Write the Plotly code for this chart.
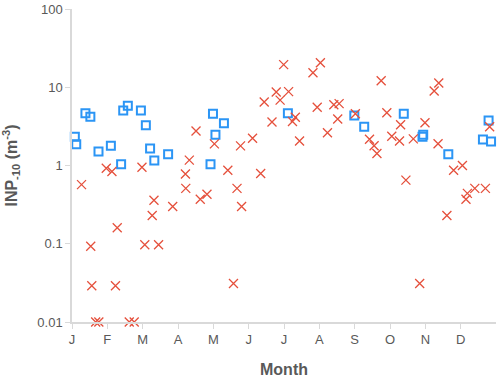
import plotly.graph_objects as go

# x = fractional month (0 = start of Jan), y = INP-10 concentration (m^-3)
month_ticks = [0, 1, 2, 3, 4, 5, 6, 7, 8, 9, 10, 11]
month_labels = ["J", "F", "M", "A", "M", "J", "J", "A", "S", "O", "N", "D"]

blue_x = [0.08, 0.12, 0.38, 0.52, 0.75, 1.10, 1.39, 1.45, 1.58, 1.95, 2.09, 2.21,
          2.33, 2.72, 3.92, 3.99, 4.06, 4.30, 6.11, 7.99, 8.27, 9.39, 9.92, 9.94,
          10.65, 11.63, 11.79, 11.86]
blue_y = [2.33, 1.87, 4.67, 4.20, 1.51, 1.79, 1.04, 5.05, 5.80, 5.05, 3.28, 1.65,
          1.16, 1.39, 1.04, 4.58, 2.47, 3.47, 4.67, 4.36, 3.13, 4.58, 2.33, 2.47,
          1.39, 2.15, 3.76, 2.03]

red_x = [0.27, 0.53, 0.56, 0.67, 0.76, 0.97, 1.13, 1.23, 1.28, 1.62, 1.76, 1.98,
         2.06, 2.27, 2.32, 2.45, 2.85, 3.21, 3.22, 3.32, 3.51, 3.63, 3.82, 4.03,
         4.41, 4.57, 4.67, 4.77, 4.80, 5.11, 5.34, 5.44, 5.66, 5.78, 5.89, 5.99,
         6.13, 6.24, 6.32, 6.44, 6.82, 6.94, 7.03, 7.23, 7.41, 7.56, 7.52, 8.02,
         8.42, 8.55, 8.63, 8.75, 8.91, 9.05, 9.27, 9.30, 9.45, 9.66, 9.84, 9.99,
         10.25, 10.36, 10.38, 10.61, 10.80, 11.05, 11.15, 11.19, 11.40, 11.70, 11.82]
red_y = [0.57, 0.093, 0.029, 0.01, 0.01, 0.92, 0.84, 0.029, 0.16, 0.01, 0.01, 0.95,
         0.097, 0.23, 0.36, 0.097, 0.30, 0.78, 0.51, 1.17, 2.76, 0.37, 0.43, 1.89,
         0.87, 0.031, 0.51, 1.78, 0.30, 2.23, 0.79, 6.49, 3.60, 8.71, 6.84, 19.45,
         8.79, 3.65, 4.13, 2.06, 15.3, 5.55, 20.6, 2.62, 5.99, 6.17, 3.93, 4.58,
         2.16, 1.79, 1.42, 12.1, 4.72, 2.36, 2.06, 3.32, 0.65, 2.19, 0.031, 3.52,
         8.97, 1.90, 11.35, 0.23, 0.87, 1.00, 0.37, 0.44, 0.51, 0.51, 3.13]

axis_grey = "#d9d9d9"
text_grey = "#595959"

fig = go.Figure()

fig.add_trace(
    go.Scatter(
        x=blue_x,
        y=blue_y,
        mode="markers",
        name="squares",
        cliponaxis=False,
        marker=dict(symbol="square-open", size=8, color="#2b95f5", line=dict(width=2)),
    )
)

fig.add_trace(
    go.Scatter(
        x=red_x,
        y=red_y,
        mode="markers",
        name="crosses",
        cliponaxis=False,
        marker=dict(symbol="x-thin-open", size=9, color="#e5503c", line=dict(width=1.3, color="#e5503c")),
    )
)

fig.update_layout(
    width=500,
    height=380,
    showlegend=False,
    plot_bgcolor="white",
    paper_bgcolor="white",
    margin=dict(l=72, r=4, t=9, b=58, autoexpand=False),
    font=dict(family="Liberation Sans, Arial, sans-serif", size=13, color=text_grey),
)

fig.update_xaxes(
    range=[0, 12],
    automargin=False,
    tickmode="array",
    tickvals=month_ticks,
    ticktext=month_labels,
    showgrid=False,
    zeroline=False,
    showline=True,
    linecolor=axis_grey,
    linewidth=1.5,
    ticks="outside",
    ticklen=5,
    tickcolor=axis_grey,
    tickfont=dict(size=13, color=text_grey),
    title=dict(text="<b>Month</b>", font=dict(size=16, color=text_grey), standoff=17),
)

fig.update_yaxes(
    type="log",
    range=[-2, 2],
    automargin=False,
    tickmode="array",
    tickvals=[0.01, 0.1, 1, 10, 100],
    ticktext=["0.01", "0.1", "1", "10", "100"],
    showgrid=False,
    zeroline=False,
    showline=True,
    linecolor=axis_grey,
    linewidth=1.5,
    ticks="outside",
    ticklen=5,
    tickcolor=axis_grey,
    tickfont=dict(size=13, color=text_grey),
    title=dict(text="<b>INP<sub>-10</sub> (m<sup>-3</sup>)</b>", font=dict(size=16, color=text_grey), standoff=16),
)

# drop the browser's default 8px body margin so the figure sits at the window corner
fig.write_html(
    "out.html",
    config={"displayModeBar": False},
    post_script="document.body.style.margin='0';",
)
